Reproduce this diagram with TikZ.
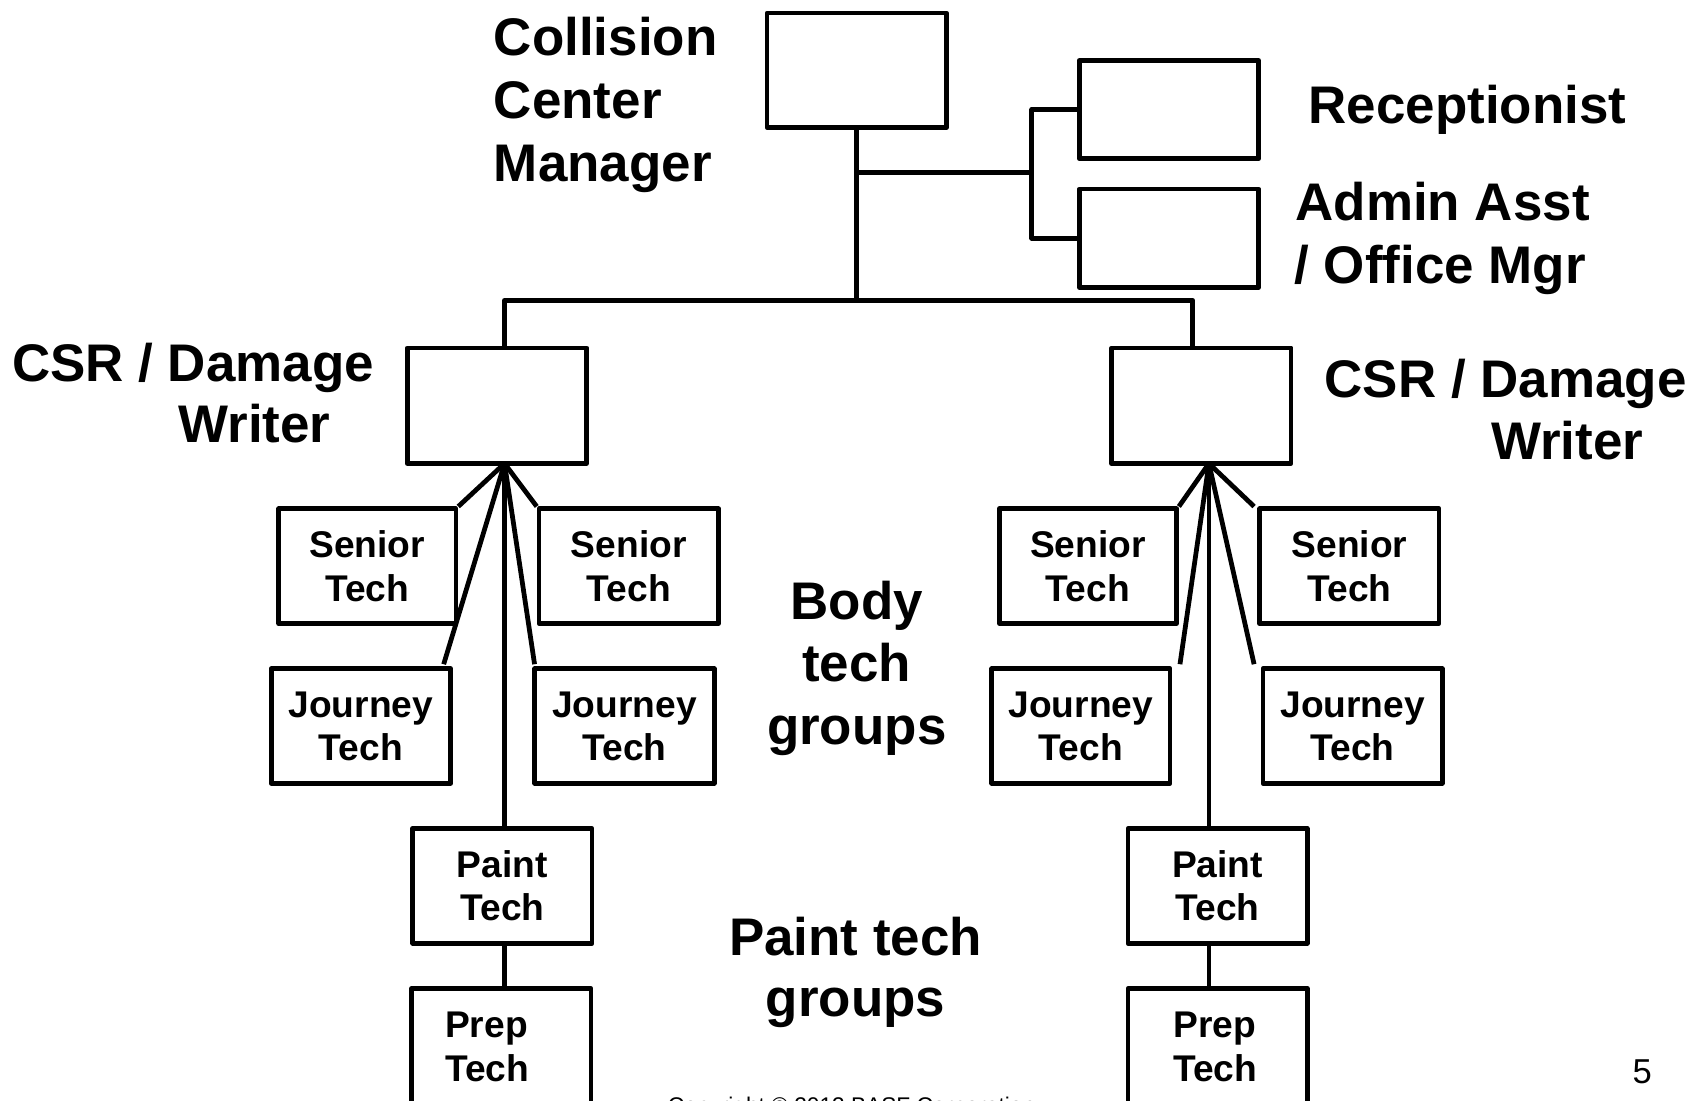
\documentclass[tikz,border=0pt]{standalone}
\usepackage{fontspec}
\setmainfont{Liberation Sans}
\usetikzlibrary{calc}
\newcommand\biglbl{\fontsize{24.5}{29}\selectfont\bfseries}
\newcommand\boxlbl{\fontsize{17.2}{20}\selectfont\bfseries}
\begin{document}
\begin{tikzpicture}[x=0.5pt,y=-0.5pt,line width=2.2pt,line join=round,
  box/.style={draw,line width=2.2pt,minimum width=83pt,minimum height=53pt,
    inner sep=0pt,align=center,font=\boxlbl},
  big/.style={font=\biglbl,inner sep=0pt,anchor=base west},
  bigc/.style={font=\biglbl,inner sep=0pt,anchor=base}]
\useasboundingbox (0,0) rectangle (1568,1019);

% management boxes
\node[box] (mgr) at (793,65) {};
\node[box,minimum height=45.5pt] (rec) at (1082,101.5) {};
\node[box,minimum height=45.5pt] (adm) at (1082,220.5) {};
\node[box,minimum height=53.5pt] (csrL) at (460,375.5) {};
\node[box,minimum height=53.5pt] (csrR) at (1112,375.5) {};

% left shop group
\node[box,minimum width=82pt] (sL1) at (340,524) {Senior\\Tech};
\node[box] (sL2) at (582,524) {Senior\\Tech};
\node[box] (jL1) at (334,672) {Journey\\Tech};
\node[box] (jL2) at (578,672) {Journey\\Tech};
\node[box] (pL) at (465,820) {Paint\\Tech};
\node[box,minimum height=54pt,align=left,inner xsep=15.5pt,text width=52pt] (ppL) at (464,969) {Prep\\Tech};

% right shop group
\node[box,minimum width=82pt] (sR1) at (1007,524) {Senior\\Tech};
\node[box] (sR2) at (1249,524) {Senior\\Tech};
\node[box,minimum width=82.5pt] (jR1) at (1000.5,672) {Journey\\Tech};
\node[box] (jR2) at (1252,672) {Journey\\Tech};
\node[box] (pR) at (1127,820) {Paint\\Tech};
\node[box,minimum height=54pt,align=left,inner xsep=21pt,text width=41pt] (ppR) at (1127,969) {Prep\\Tech};

% junction points
\coordinate (j1) at (793,160);
\coordinate (j2) at (793,278);
\coordinate (brk) at (955,160);
\coordinate (tL) at (467,278);
\coordinate (tR) at (1104,278);
\coordinate (aL) at (467,429);
\coordinate (aR) at (1119,429);

% upper connectors
\draw (mgr.south) -- (j2);
\draw (j1) -- (brk);
\draw (rec.west) -| (brk) |- (adm.west);
\draw (tL |- csrL.north) -- (tL) -- (tR) -- (tR |- csrR.north);

% left fan
\draw (aL) -- (sL1.north east);
\draw (aL) -- (sL2.north west);
\draw (aL) -- ($(jL1.north west)!0.95!(jL1.north east)+(0,-2)$);
\draw (aL) -- ($(jL2.north west)+(2,-2)$);
\draw (aL) -- (aL |- pL.north);
\draw (aL |- pL.south) -- (aL |- ppL.north);

% right fan
\draw (aR) -- (sR1.north east);
\draw (aR) -- ($(sR2.north west)+(-3,0)$);
\draw (aR) -- ($(jR1.north east)+(7,-2)$);
\draw (aR) -- ($(jR2.north west)+(-6,-2)$);
\draw (aR) -- (aR |- pR.north);
\draw (aR |- pR.south) -- (aR |- ppR.north);

% titles
\node[big] (m1) at (455,51) {Collision};
\node[big] (m2) at (455,110) {Center};
\node[big] (m3) at (455,168) {Manager};
\node[big] (r1) at (1209,114) {Receptionist};
\node[big] (a1) at (1197,204) {Admin Asst};
\node[big] (a2) at (1196,262) {/ Office Mgr};
\node[big] (cl1) at (9,353) {CSR / Damage};
\node[big] (cl2) at (163,410) {Writer};
\node[big] (cr1) at (1224,368) {CSR / Damage};
\node[big] (cr2) at (1378,425) {Writer};
\node[bigc] (b1) at (793,573) {Body};
\node[bigc] (b2) at (793,631) {tech};
\node[bigc] (b3) at (793,689) {groups};
\node[bigc] (g1) at (792,884) {Paint tech};
\node[bigc] (g2) at (792,941) {groups};

% footer
\node[font=\fontsize{16}{19}\selectfont,inner sep=0pt,anchor=base] (pg) at (1520,1003) {5};
\node[font=\fontsize{10.5}{12}\selectfont,inner sep=0pt,anchor=base west] (cp) at (616,1031) {Copyright © 2013 BASF Corporation};
\end{tikzpicture}
\end{document}
